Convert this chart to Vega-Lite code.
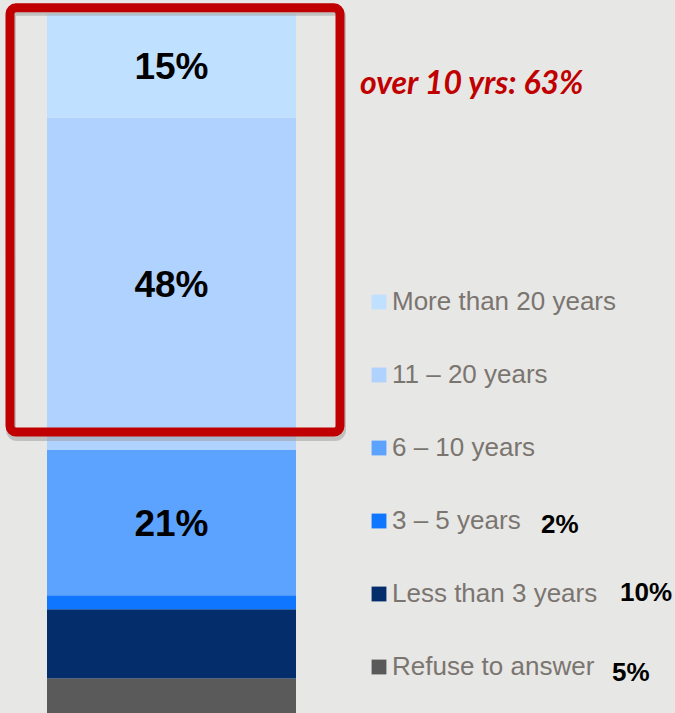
{
  "$schema": "https://vega.github.io/schema/vega-lite/v6.json",
  "width": 675,
  "height": 713,
  "autosize": {"type": "none"},
  "padding": 0,
  "background": "#e7e7e5",
  "view": {"stroke": null},
  "config": {"font": "Liberation Sans"},
  "title": {
    "text": "over 10 yrs: 63%",
    "color": "#c00000",
    "font": "Lato",
    "fontStyle": "italic",
    "fontWeight": "bold",
    "fontSize": 32,
    "anchor": "start",
    "frame": "group",
    "offset": 0,
    "baseline": "middle",
    "dx": 360,
    "dy": 116
  },
  "data": {
    "values": [
      {"group": "All", "category": "Refuse to answer", "pct": 5, "rank": 1, "label": "5%"},
      {"group": "All", "category": "Less than 3 years", "pct": 10, "rank": 2, "label": "10%"},
      {"group": "All", "category": "3 – 5 years", "pct": 2, "rank": 3, "label": "2%"},
      {"group": "All", "category": "6 – 10 years", "pct": 21, "rank": 4, "label": "21%"},
      {"group": "All", "category": "11 – 20 years", "pct": 48, "rank": 5, "label": "48%"},
      {"group": "All", "category": "More than  20 years", "pct": 15, "rank": 6, "label": "15%"}
    ]
  },
  "transform": [
    {"stack": "pct", "groupby": ["group"], "sort": [{"field": "rank", "order": "ascending"}], "as": ["y0", "y1"]}
  ],
  "resolve": {"scale": {"y": "independent"}},
  "layer": [
    {
      "mark": {"type": "bar"},
      "encoding": {
        "x": {"field": "group", "type": "nominal", "axis": null, "scale": {"range": [47, 296], "paddingInner": 0, "paddingOuter": 0}},
        "y": {"field": "y0", "type": "quantitative", "axis": null, "scale": {"domain": [0, 103], "nice": false, "zero": false}},
        "y2": {"field": "y1"},
        "color": {
          "field": "category",
          "type": "nominal",
          "scale": {
            "domain": ["More than  20 years", "11 – 20 years", "6 – 10 years", "3 – 5 years", "Less than 3 years", "Refuse to answer"],
            "range": ["#c0e0ff", "#b0d2ff", "#5ca3ff", "#0e76ff", "#032e6b", "#5a5a5a"]
          },
          "legend": {
            "orient": "none",
            "legendX": 366,
            "legendY": 289,
            "title": null,
            "symbolType": "square",
            "symbolSize": 220,
            "symbolStrokeWidth": 0,
            "labelFontSize": 26,
            "labelColor": "#7b7570",
            "labelFont": "Liberation Sans",
            "labelLimit": 400,
            "rowPadding": 47,
            "labelOffset": 0,
            "padding": 0
          }
        }
      }
    },
    {
      "transform": [
        {"filter": "datum.pct >= 15"},
        {"fold": ["y0", "y1"], "as": ["edge", "ypos"]},
        {"aggregate": [{"op": "mean", "field": "ypos", "as": "mid"}], "groupby": ["group", "category", "label"]}
      ],
      "mark": {"type": "text", "fontSize": 37, "fontWeight": "bold", "color": "#000000", "baseline": "middle", "align": "center", "dy": 2},
      "encoding": {
        "x": {"field": "group", "type": "nominal"},
        "y": {"field": "mid", "type": "quantitative", "axis": null, "scale": {"domain": [0, 103], "nice": false, "zero": false}},
        "text": {"field": "label"}
      }
    },
    {
      "transform": [
        {"filter": "datum.rank >= 5"},
        {"aggregate": [{"op": "min", "field": "y0", "as": "lo"}, {"op": "max", "field": "y1", "as": "hi"}], "groupby": ["group"]}
      ],
      "mark": {"type": "bar", "width": 330, "xOffset": 4.5, "yOffset": -3, "y2Offset": -14, "fillOpacity": 0, "stroke": "#9a9a9a", "strokeOpacity": 0.5, "strokeWidth": 10, "cornerRadius": 6},
      "encoding": {
        "x": {"field": "group", "type": "nominal"},
        "y": {"field": "hi", "type": "quantitative", "axis": null, "scale": {"domain": [0, 103], "nice": false, "zero": false}},
        "y2": {"field": "lo"}
      }
    },
    {
      "transform": [
        {"filter": "datum.rank >= 5"},
        {"aggregate": [{"op": "min", "field": "y0", "as": "lo"}, {"op": "max", "field": "y1", "as": "hi"}], "groupby": ["group"]}
      ],
      "mark": {"type": "bar", "width": 330, "xOffset": 3.5, "yOffset": -6, "y2Offset": -18, "fillOpacity": 0, "stroke": "#c00000", "strokeWidth": 9, "cornerRadius": 6},
      "encoding": {
        "x": {"field": "group", "type": "nominal"},
        "y": {"field": "hi", "type": "quantitative", "axis": null, "scale": {"domain": [0, 103], "nice": false, "zero": false}},
        "y2": {"field": "lo"}
      }
    },
    {
      "transform": [{"filter": "datum.category == '3 – 5 years'"}],
      "mark": {"type": "text", "fontSize": 26, "fontWeight": "bold", "color": "#000000", "baseline": "middle", "align": "left", "dx": 369.5, "dy": 5},
      "encoding": {
        "x": {"field": "group", "type": "nominal"},
        "y": {"field": "category", "type": "nominal", "axis": null, "scale": {"type": "point", "domain": ["More than  20 years", "11 – 20 years", "6 – 10 years", "3 – 5 years", "Less than 3 years", "Refuse to answer"], "range": [302, 666], "padding": 0}},
        "text": {"field": "label"}
      }
    },
    {
      "transform": [{"filter": "datum.category == 'Less than 3 years'"}],
      "mark": {"type": "text", "fontSize": 26, "fontWeight": "bold", "color": "#000000", "baseline": "middle", "align": "left", "dx": 448.5, "dy": 0},
      "encoding": {
        "x": {"field": "group", "type": "nominal"},
        "y": {"field": "category", "type": "nominal", "axis": null, "scale": {"type": "point", "domain": ["More than  20 years", "11 – 20 years", "6 – 10 years", "3 – 5 years", "Less than 3 years", "Refuse to answer"], "range": [302, 666], "padding": 0}},
        "text": {"field": "label"}
      }
    },
    {
      "transform": [{"filter": "datum.category == 'Refuse to answer'"}],
      "mark": {"type": "text", "fontSize": 26, "fontWeight": "bold", "color": "#000000", "baseline": "middle", "align": "left", "dx": 440.5, "dy": 7},
      "encoding": {
        "x": {"field": "group", "type": "nominal"},
        "y": {"field": "category", "type": "nominal", "axis": null, "scale": {"type": "point", "domain": ["More than  20 years", "11 – 20 years", "6 – 10 years", "3 – 5 years", "Less than 3 years", "Refuse to answer"], "range": [302, 666], "padding": 0}},
        "text": {"field": "label"}
      }
    }
  ]
}
